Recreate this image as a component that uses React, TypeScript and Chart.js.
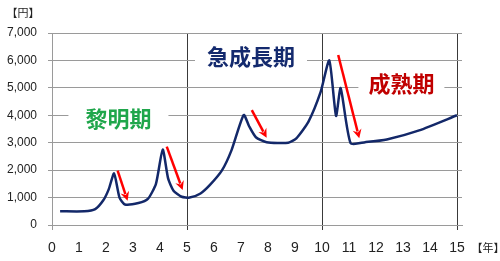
import { useEffect, useRef } from 'react';
import { Chart, registerables } from 'chart.js';

Chart.register(...registerables);

// ---- data ----
const years = [0.3, 1.2, 1.6, 1.9, 2.1, 2.3, 2.5, 2.7, 3.2, 3.55, 3.85, 4.1, 4.3, 4.5, 4.8, 5.1, 5.5, 5.85, 6.3, 6.65, 7.1, 7.3, 7.55, 7.95, 8.75, 9.05, 9.5, 9.95, 10.27, 10.52, 10.69, 11.06, 11.6, 12.4, 13.6, 15.0];
const prices = [500, 500, 580, 900, 1300, 1880, 1000, 750, 800, 950, 1500, 2750, 1700, 1250, 1030, 1000, 1150, 1460, 2000, 2730, 4010, 3600, 3200, 3020, 3000, 3160, 3770, 4850, 6000, 3980, 4990, 2980, 3020, 3120, 3450, 4000];

const xTickValues = [0, 1, 2, 3, 4, 5, 6, 7, 8, 9, 10, 11, 12, 13, 14, 15];
const phaseDividers = [5, 10, 15];

const arrowFromX = [2.43, 4.25, 7.4, 10.6];
const arrowFromY = [1980, 2855, 4190, 6200];
const arrowToX = [2.8, 4.84, 7.95, 11.38];
const arrowToY = [885, 1275, 3180, 3160];

const phaseNames = ['黎明期', '急成長期', '成熟期'];
const phaseX = [2.46, 7.37, 12.94];
const phaseY = [3920, 6160, 5180];
const phaseColors = ['#1fa64b', '#142a6e', '#c00000'];
const phaseBoxHalf = [50, 56, 43];

const yUnit = '【円】';
const xUnit = '【年】';

const overlay = {
  id: 'overlay',
  beforeDatasetsDraw(chart: any) {
    const { ctx, scales } = chart;
    const x = scales.x;
    const y = scales.y;
    ctx.save();
    ctx.font = 'bold 22px "Noto Sans CJK JP"';
    ctx.textAlign = 'center';
    ctx.textBaseline = 'middle';
    phaseNames.forEach((t, i) => {
      const px = x.getPixelForValue(phaseX[i]);
      const py = y.getPixelForValue(phaseY[i]);
      ctx.fillStyle = '#ffffff';
      ctx.fillRect(px - phaseBoxHalf[i], py - 12, phaseBoxHalf[i] * 2, 24);
      ctx.fillStyle = phaseColors[i];
      ctx.fillText(t, px, py + 1);
    });
    ctx.restore();
  },
  afterDatasetsDraw(chart: any) {
    const { ctx, scales } = chart;
    const x = scales.x;
    const y = scales.y;
    ctx.save();
    ctx.strokeStyle = '#ff0000';
    ctx.fillStyle = '#ff0000';
    ctx.lineWidth = 2.5;
    arrowFromX.forEach((_, i) => {
      const x0 = x.getPixelForValue(arrowFromX[i]);
      const y0 = y.getPixelForValue(arrowFromY[i]);
      const x1 = x.getPixelForValue(arrowToX[i]);
      const y1 = y.getPixelForValue(arrowToY[i]);
      const a = Math.atan2(y1 - y0, x1 - x0);
      const head = 9;
      const hw = 4.5;
      const bx = x1 - head * Math.cos(a);
      const by = y1 - head * Math.sin(a);
      ctx.beginPath();
      ctx.moveTo(x0, y0);
      ctx.lineTo(bx + 2 * Math.cos(a), by + 2 * Math.sin(a));
      ctx.stroke();
      ctx.beginPath();
      ctx.moveTo(x1, y1);
      ctx.lineTo(bx + hw * Math.sin(a), by - hw * Math.cos(a));
      ctx.lineTo(bx + 3 * Math.cos(a), by + 3 * Math.sin(a));
      ctx.lineTo(bx - hw * Math.sin(a), by + hw * Math.cos(a));
      ctx.closePath();
      ctx.fill();
    });
    ctx.fillStyle = '#222222';
    ctx.font = '11px "Noto Sans CJK JP"';
    ctx.textAlign = 'center';
    ctx.textBaseline = 'middle';
    ctx.fillText(yUnit, 23, 13);
    ctx.fillText(xUnit, 488, 248);
    ctx.restore();
  },
};

export default function App() {
  const ref = useRef<HTMLCanvasElement | null>(null);
  useEffect(() => {
    document.body.style.margin = '0';
    const canvas = ref.current;
    if (!canvas) return;
    const chart = new Chart(canvas, {
      type: 'line',
      data: {
        datasets: [
          {
            data: years.map((v, i) => ({ x: v, y: prices[i] })),
            borderColor: '#132869',
            borderWidth: 2.5,
            pointRadius: 0,
            tension: 0.2,
            fill: false,
          },
        ],
      },
      options: {
        responsive: false,
        animation: false,
        layout: { padding: { top: 33, right: 38, left: 0, bottom: 0 } },
        plugins: { legend: { display: false }, tooltip: { enabled: false } },
        scales: {
          x: {
            type: 'linear',
            min: 0,
            max: 15.185,
            afterBuildTicks: (s: any) => {
              s.ticks = xTickValues.map((v) => ({ value: v }));
            },
            afterFit: (s: any) => {
              s.height = 36;
            },
            ticks: {
              autoSkip: false,
              maxRotation: 0,
              padding: 10,
              color: '#222222',
              font: { size: 14, family: '"Liberation Sans", "Noto Sans", sans-serif' },
              callback: (v: any) => String(v),
            },
            grid: {
              tickLength: 5,
              lineWidth: 1,
              color: (c: any) => {
                const v = c.tick ? c.tick.value : -1;
                if (phaseDividers.includes(v)) return '#3a3a3a';
                if (v === 0) return '#9a9a9a';
                return 'rgba(0,0,0,0)';
              },
            },
            border: { display: true, color: '#9a9a9a', width: 1 },
          },
          y: {
            min: 0,
            max: 7000,
            afterFit: (s: any) => {
              s.width = 52;
            },
            ticks: {
              stepSize: 1000,
              padding: 11,
              color: '#222222',
              font: { size: 12, family: '"Liberation Sans", "Noto Sans", sans-serif' },
              callback: (v: any) => Number(v).toLocaleString('en-US'),
            },
            grid: { color: '#9a9a9a', lineWidth: 1, tickLength: 4 },
            border: { display: true, color: '#9a9a9a', width: 1 },
          },
        },
      },
      plugins: [overlay],
    } as any);
    return () => chart.destroy();
  }, []);
  return (
    <div style={{ width: 500, height: 261 }}>
      <canvas ref={ref} width={500} height={261} style={{ display: 'block' }} />
    </div>
  );
}
